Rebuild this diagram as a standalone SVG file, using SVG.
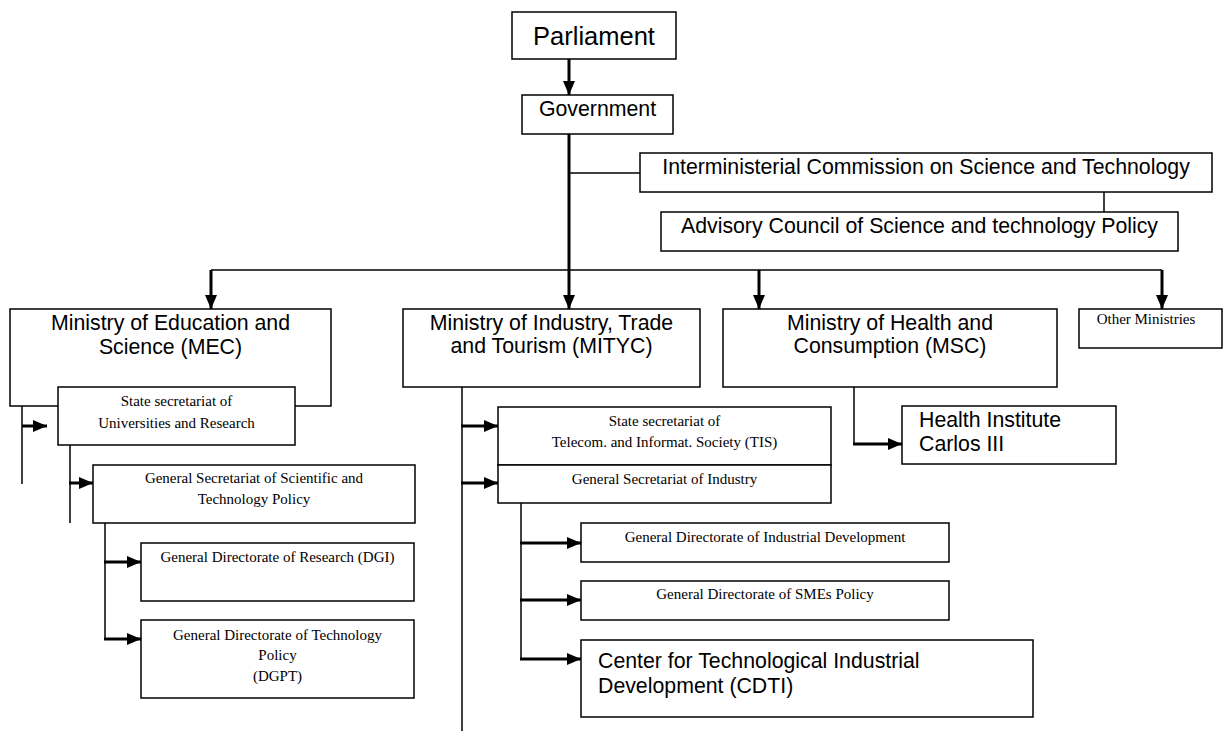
<svg xmlns="http://www.w3.org/2000/svg" width="1223" height="731" viewBox="0 0 1223 731">
<style>
.box{fill:#fff;stroke:#000;stroke-width:1.5}
.big{font-family:"Liberation Sans",Arial,sans-serif;font-size:21.3px;fill:#000}
.par{font-family:"Liberation Sans",Arial,sans-serif;font-size:25.5px;fill:#000}
.sm{font-family:"Liberation Serif","Times New Roman",serif;font-size:15px;fill:#000}
.mid{text-anchor:middle}
.thin{stroke:#000;stroke-width:1.5;fill:none}
.thick{stroke:#000;stroke-width:3;fill:none}
.arr{stroke:#000;stroke-width:3;fill:none;marker-end:url(#ah)}
</style>
<defs>
<marker id="ah" markerUnits="userSpaceOnUse" markerWidth="14" markerHeight="12" refX="14" refY="6" orient="auto">
<path d="M0,0 L14,6 L0,12 z" fill="#000"/>
</marker>
</defs>
<rect width="1223" height="731" fill="#fff"/>
<g id="connectors">
<line class="arr" x1="569" y1="59" x2="569" y2="95"/>
<line class="arr" x1="569" y1="134" x2="569" y2="309"/>
<line class="thin" x1="569" y1="173" x2="640" y2="173"/>
<line class="thin" x1="1104" y1="192" x2="1104" y2="212"/>
<line class="thin" x1="211" y1="270" x2="1162" y2="270"/>
<line class="arr" x1="211" y1="270" x2="211" y2="309"/>
<line class="arr" x1="759" y1="270" x2="759" y2="309"/>
<line class="arr" x1="1162" y1="270" x2="1162" y2="309"/>
<line class="thin" x1="22" y1="406" x2="22" y2="484"/>
<line class="arr" x1="22" y1="426" x2="47" y2="426"/>
<line class="thin" x1="70" y1="445" x2="70" y2="523"/>
<line class="arr" x1="69" y1="483" x2="93" y2="483"/>
<line class="thin" x1="105" y1="523" x2="105" y2="639"/>
<line class="arr" x1="104" y1="562" x2="141" y2="562"/>
<line class="arr" x1="104" y1="639" x2="141" y2="639"/>
<line class="thin" x1="462" y1="387" x2="462" y2="731"/>
<line class="arr" x1="461" y1="426" x2="498" y2="426"/>
<line class="arr" x1="461" y1="483" x2="498" y2="483"/>
<line class="thin" x1="521" y1="503" x2="521" y2="659"/>
<line class="arr" x1="520" y1="543" x2="581" y2="543"/>
<line class="arr" x1="520" y1="600" x2="581" y2="600"/>
<line class="arr" x1="520" y1="659" x2="581" y2="659"/>
<line class="thin" x1="854" y1="387" x2="854" y2="444"/>
<line class="arr" x1="853" y1="444" x2="902" y2="444"/>
</g>
<g id="parliament"><rect class="box" x="512" y="12" width="164" height="47"/><text class="par mid" x="594" y="45">Parliament</text></g>
<g id="government"><rect class="box" x="522" y="95" width="151" height="39"/><text class="big mid" x="597.5" y="116">Government</text></g>
<g id="interministerial"><rect class="box" x="640" y="153" width="572" height="39"/><text class="big mid" x="926" y="174">Interministerial Commission on Science and Technology</text></g>
<g id="advisory"><rect class="box" x="661" y="212" width="517" height="39"/><text class="big mid" x="919.5" y="233">Advisory Council of Science and technology Policy</text></g>
<g id="mec"><rect class="box" x="10" y="309" width="321" height="97"/><text class="big mid" x="170.5" y="330">Ministry of Education and</text><text class="big mid" x="170.5" y="354">Science (MEC)</text></g>
<g id="ssur"><rect class="box" x="58" y="387" width="237" height="58"/><text class="sm mid" x="176.5" y="406">State secretariat of</text><text class="sm mid" x="176.5" y="428">Universities and Research</text></g>
<g id="gsstp"><rect class="box" x="93" y="465" width="322" height="58"/><text class="sm mid" x="254" y="483">General Secretariat of Scientific and</text><text class="sm mid" x="254" y="504">Technology Policy</text></g>
<g id="dgi"><rect class="box" x="141" y="543" width="273" height="58"/><text class="sm mid" x="277.5" y="562">General Directorate of Research (DGI)</text></g>
<g id="dgpt"><rect class="box" x="141" y="620" width="273" height="78"/><text class="sm mid" x="277.5" y="640">General Directorate of Technology</text><text class="sm mid" x="277.5" y="660">Policy</text><text class="sm mid" x="277.5" y="681">(DGPT)</text></g>
<g id="mityc"><rect class="box" x="403" y="309" width="297" height="78"/><text class="big mid" x="551.5" y="330">Ministry of Industry, Trade</text><text class="big mid" x="551.5" y="353">and Tourism (MITYC)</text></g>
<g id="tis"><rect class="box" x="498" y="407" width="333" height="58"/><text class="sm mid" x="664.5" y="426">State secretariat of</text><text class="sm mid" x="664.5" y="447">Telecom. and Informat. Society (TIS)</text></g>
<g id="gsi"><rect class="box" x="498" y="465" width="333" height="38"/><text class="sm mid" x="664.5" y="484">General Secretariat of Industry</text></g>
<g id="dgid"><rect class="box" x="581" y="523" width="368" height="39"/><text class="sm mid" x="765" y="542">General Directorate of Industrial Development</text></g>
<g id="dgsme"><rect class="box" x="581" y="581" width="368" height="39"/><text class="sm mid" x="765" y="599">General Directorate of SMEs Policy</text></g>
<g id="cdti"><rect class="box" x="581" y="640" width="452" height="77"/><text class="big" x="598" y="668">Center for Technological Industrial</text><text class="big" x="598" y="693">Development (CDTI)</text></g>
<g id="msc"><rect class="box" x="723" y="309" width="334" height="78"/><text class="big mid" x="890" y="330">Ministry of Health and</text><text class="big mid" x="890" y="353">Consumption (MSC)</text></g>
<g id="isciii"><rect class="box" x="902" y="406" width="214" height="58"/><text class="big" x="919" y="427">Health Institute</text><text class="big" x="919" y="451">Carlos III</text></g>
<g id="other"><rect class="box" x="1079" y="309" width="143" height="39"/><text class="sm mid" x="1146" y="324">Other Ministries</text></g>
</svg>
